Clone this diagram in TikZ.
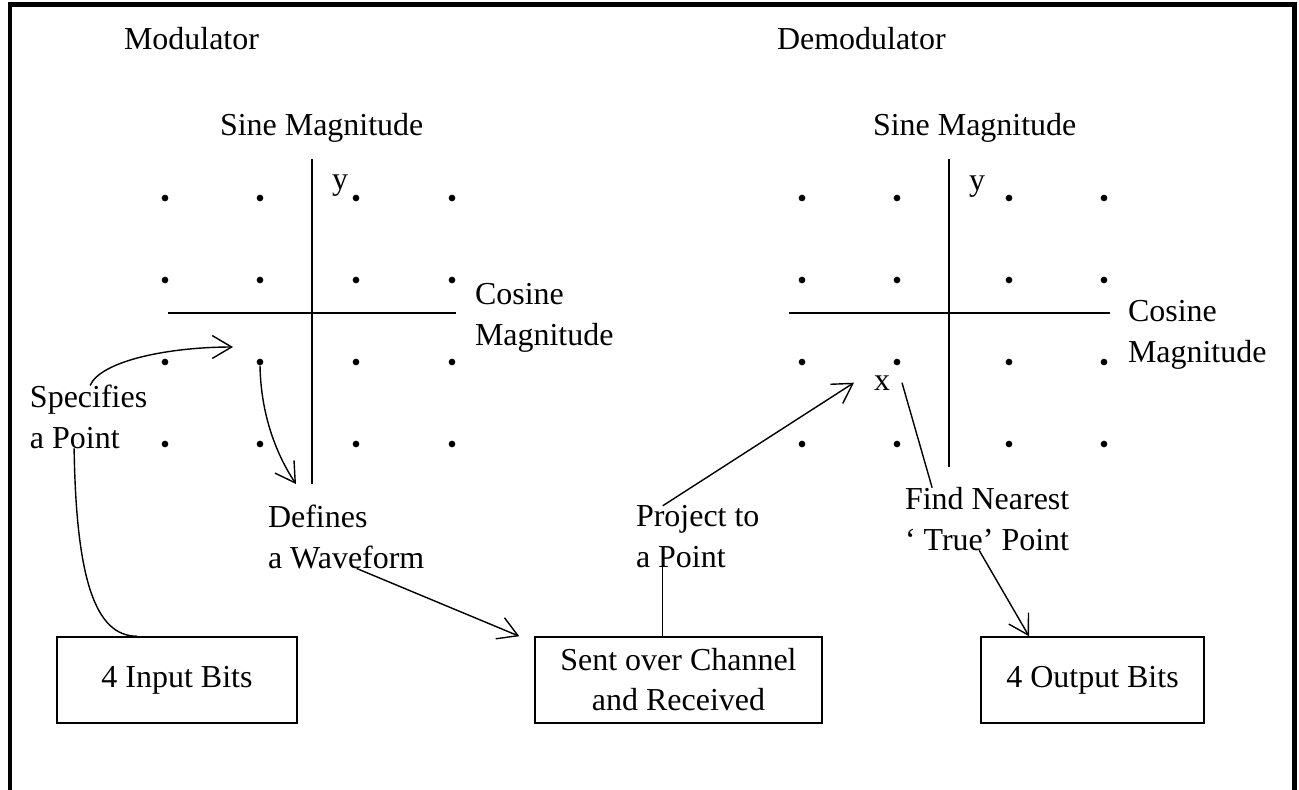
\documentclass[tikz,border=0pt]{standalone}
\usepackage{fontspec}
\setmainfont{Liberation Serif}
\usetikzlibrary{arrows.meta, positioning, shadows}

\begin{document}
\begin{tikzpicture}[
    x=0.02cm, y=-0.02cm,
    every node/.style={font=\fontsize{18.2pt}{22.8pt}\selectfont},
    lbl/.style={inner sep=0pt, outer sep=0pt, anchor=base west, align=left},
    bitbox/.style={rectangle, draw, line width=0.9pt, fill=white,
                   minimum height=1.72cm, align=center,
                   drop shadow={shadow xshift=0.7pt, shadow yshift=-0.7pt,
                                fill=black, opacity=1}},
    pt/.style={circle, fill, inner sep=0pt, minimum size=3.8pt},
    axis/.style={line width=1.2pt},
    line/.style={line width=0.8pt},
    arr/.style={-{Straight Barb[length=11pt, width=13pt, line width=0.8pt]},
                line width=0.8pt},
]
\useasboundingbox (0,0) rectangle (1299,789);

% frame
\draw[line width=2.8pt] (10,800) -- (10,4.5) -- (1294.5,4.5) -- (1294.5,800);

% titles
\node[lbl] (modlabel) at (124,49) {Modulator};
\node[lbl] (demodlabel) at (777,49) {Demodulator};

% modulator constellation
\node[lbl] (msine) at (220,135) {Sine Magnitude};
\draw[axis] (312,159) -- (312,484);
\draw[axis] (168,313) -- (456,313);
\node[lbl] (my) at (332,189) {y};
\node[lbl] (mcos) at (475,345) {Cosine\\Magnitude};
\foreach \c/\x in {1/165,2/260,3/356,4/452}
  \foreach \r/\y in {1/198,2/280,3/362,4/444}
    \node[pt] (m\c\r) at (\x,\y) {};

% demodulator constellation
\node[lbl] (dsine) at (873,135) {Sine Magnitude};
\draw[axis] (949,159) -- (949,467);
\draw[axis] (789,313) -- (1110,313);
\node[lbl] (dy) at (969,190) {y};
\node[lbl] (dcos) at (1128,362) {Cosine\\Magnitude};
\foreach \c/\x in {1/802,2/897,3/1009,4/1104}
  \foreach \r/\y in {1/198,2/280,3/362,4/444}
    \node[pt] (d\c\r) at (\x,\y) {};
\node[lbl] (xmark) at (874,390) {x};

% side labels
\node[lbl] (specify) at (30,448) {Specifies\\a Point};
\node[lbl] (defines) at (268,568) {Defines\\a Waveform};
\node[lbl] (project) at (636,567) {Project to\\a Point};
\node[lbl] (nearest) at (905,550) {Find Nearest\\‘ True’ Point};

% boxes
\node[bitbox, minimum width=4.8cm] (inbits) at (177,680) {4 Input Bits};
\node[bitbox, minimum width=5.74cm] (channel) at (678.5,680)
  {Sent over Channel\\and Received};
\node[bitbox, minimum width=4.46cm] (outbits) at (1092.5,680) {4 Output Bits};

\coordinate (mhit) at (233,347);
\coordinate (wave) at (296,484);
\coordinate (pstem) at ([xshift=-0.32cm]channel.north);

% connectors
\draw[arr] ([xshift=0.03cm]specify.north) .. controls +(11,-25) and +(-63,0) .. (mhit);
\draw[line] ([xshift=-0.29cm]specify.south) .. controls +(2,130) and +(-42,0)
  .. ([xshift=-0.8cm]inbits.north);
\draw[arr] (m23.south) .. controls +(1,55) and +(-16,-24) .. (wave);
\draw[arr] ([xshift=0.21cm]defines.south) -- ([xshift=-0.3cm]channel.north west);
\draw[line] (pstem) -- (project.south -| pstem);
\draw[arr] ([xshift=-0.7cm]project.north) -- ([xshift=-0.4cm]xmark.west);
\draw[line] ([xshift=0.24cm]xmark.east) -- ([xshift=-1.1cm]nearest.north);
\draw[arr] ([xshift=-0.16cm]nearest.south) -- ([xshift=-1.27cm]outbits.north);

\end{tikzpicture}
\end{document}
